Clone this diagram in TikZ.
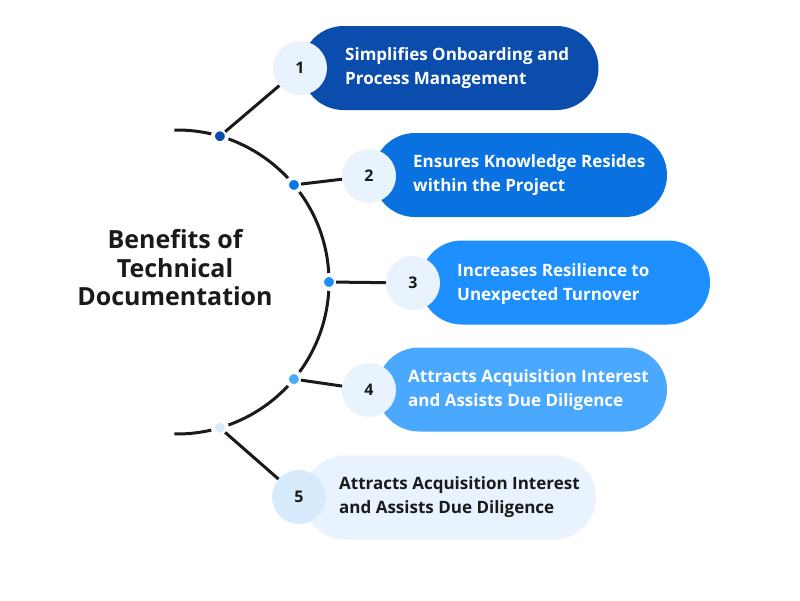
\documentclass[tikz,border=0pt]{standalone}
\usepackage{fontspec}
\setmainfont{Open Sans}
\usetikzlibrary{calc}
\definecolor{cA}{HTML}{0B4DAD}
\definecolor{cB}{HTML}{0A72E0}
\definecolor{cC}{HTML}{1E8FFF}
\definecolor{cD}{HTML}{4BA8FF}
\definecolor{cE}{HTML}{E8F3FF}
\definecolor{numbg}{HTML}{E8F3FE}
\definecolor{numbgE}{HTML}{D8EBFD}
\definecolor{dotE}{HTML}{D8EBFD}
\definecolor{ink}{HTML}{1A1A1A}
\tikzset{
  pill/.style={rectangle, rounded corners=42pt, minimum height=84pt, inner sep=0pt, draw=none},
  numc/.style={circle, minimum size=54pt, inner sep=0pt, fill=numbg, text=ink, font=\fontsize{16}{18}\selectfont\bfseries},
  dotn/.style={circle, inner sep=0pt, minimum size=14pt, draw=white, line width=4pt, outer sep=0pt},
  ptext/.style={anchor=west, align=left, inner sep=0pt, font=\fontsize{17}{23.5}\selectfont\bfseries},
  conn/.style={line width=3pt, ink},
}
\begin{document}
\begin{tikzpicture}[x=1pt,y=-1pt]
\useasboundingbox[fill=white] (0,0) rectangle (800,600);
\coordinate (C) at (177,282);
% arc
\draw[conn] ($(C)+(-91:152)$) arc[start angle=-91, end angle=91, radius=152];
% pills
\node[pill, fill=cA, minimum width=297pt] (p1) at (450,68) {};
\node[pill, fill=cB, minimum width=294pt] (p2) at (520,175) {};
\node[pill, fill=cC, minimum width=290pt] (p3) at (565,282.5) {};
\node[pill, fill=cD, minimum width=290pt] (p4) at (522,389.5) {};
\node[pill, fill=cE, minimum width=293pt] (p5) at (449.5,497.5) {};
% dots
\node[dotn, fill=cA] (d1) at ($(C)+(-73.6:152)$) {};
\node[dotn, fill=cB!85!cC] (d2) at ($(C)+(-39.7:152)$) {};
\node[dotn, fill=cC] (d3) at ($(C)+(0:152)$) {};
\node[dotn, fill=cD] (d4) at ($(C)+(39.7:152)$) {};
\node[dotn, fill=dotE] (d5) at ($(C)+(73.6:152)$) {};
% number circles
\node[numc] (n1) at (300,68) {1};
\node[numc] (n2) at (369,176) {2};
\node[numc] (n3) at (413,283) {3};
\node[numc] (n4) at (369,390) {4};
\node[numc, fill=numbgE] (n5) at (299,497) {5};
% connectors
\draw[conn] (d1) -- (n1);
\draw[conn] (d2) -- (n2);
\draw[conn] (d3) -- (n3);
\draw[conn] (d4) -- (n4);
\draw[conn] (d5) -- (n5);
% texts
\node[ptext, text=white] (t1) at (345,68) {Simplifies Onboarding and\\Process Management};
\node[ptext, text=white] (t2) at (413,175) {Ensures Knowledge Resides\\within the Project};
\node[ptext, text=white] (t3) at (457,284) {Increases Resilience to\\Unexpected Turnover};
\node[ptext, text=white] (t4) at (408,390) {Attracts Acquisition Interest\\and Assists Due Diligence};
\node[ptext, text=ink] (t5) at (339,497) {Attracts Acquisition Interest\\and Assists Due Diligence};
% title
\node[align=center, inner sep=0pt, text=ink, font=\fontsize{25}{28.5}\selectfont\bfseries] (title) at (175,268) {Benefits of\\Technical\\Documentation};
\end{tikzpicture}
\end{document}
